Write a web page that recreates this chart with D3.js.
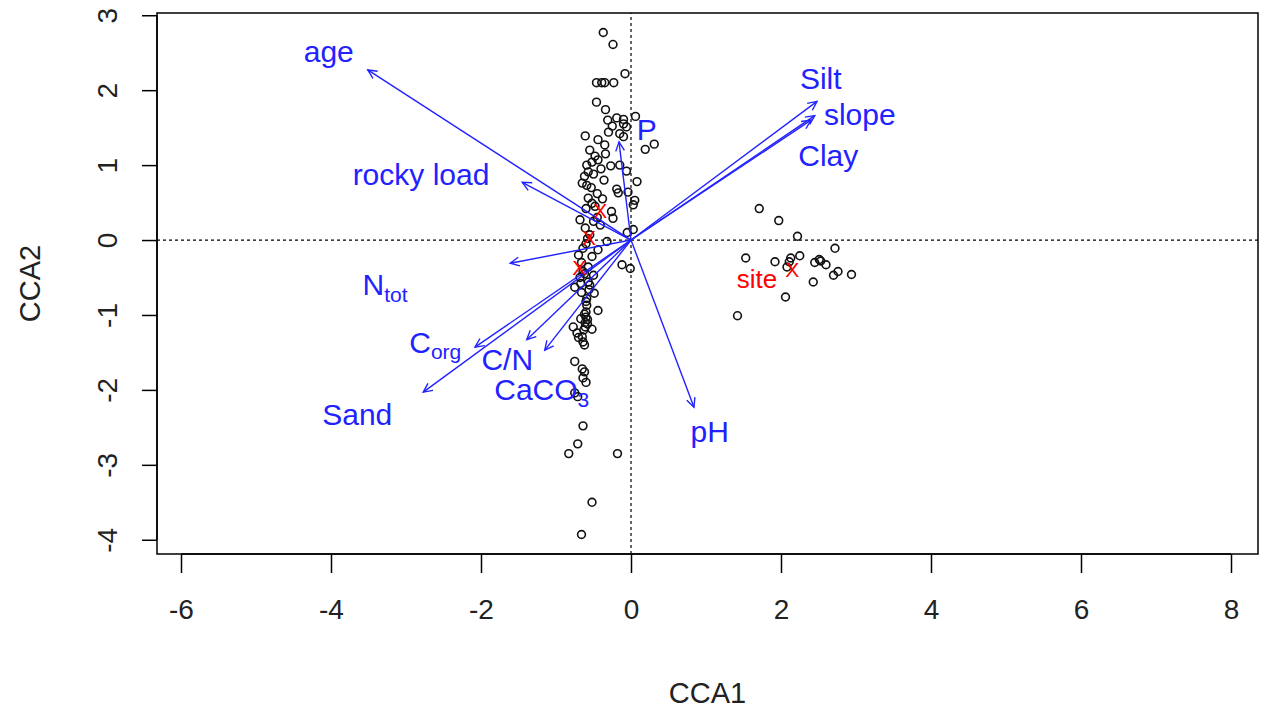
<!DOCTYPE html>
<html>
<head>
<meta charset="utf-8">
<script src="https://cdn.jsdelivr.net/npm/d3@7"></script>
<style>
  body { margin: 0; background: white; }
  text { font-family: "Liberation Sans", Arial, sans-serif; }
</style>
</head>
<body>
<div id="workspace"></div>
<script>
// site scores (CCA1, CCA2)
var siteX = [-0.37, -0.24, -0.08, -0.46, -0.39, -0.35, -0.23, -0.46, -0.34, 0.06, -0.19, -0.10, -0.31, -0.06,
             -0.61, -0.30, -0.15, -0.10, -0.44, -0.35, 0.31, 0.19,
             -0.34, -0.44, -0.52, -0.59, -0.27, -0.15, -0.06, -0.57, -0.50, -0.36, 0.08, -0.65, -0.59,
             -0.19, -0.17, -0.04, -0.57, -0.52, 0.05, 0.03, -0.26, -0.24, -0.68, -0.41, -0.61, 0.03,
             -0.55, -0.32, -0.64, -0.44, -0.52, -0.12, -0.01, -0.57, -0.64, -0.50,
             -0.75, -0.67, -0.57, -0.49, -0.59, -0.59, -0.44, -0.60, -0.60, -0.61, -0.77, -0.72, -0.61,
             -0.52, -0.65, -0.64, -0.75, -0.65, -0.62, -0.64, -0.75, -0.71,
             -0.64, -0.71, -0.83, -0.18, -0.52, -0.66,
             -0.60, -0.62, -0.58, -0.63, -0.56, -0.68, -0.45, -0.50, -0.58, -0.60, -0.66, -0.62,
             -0.55, -0.48, -0.40, -0.62, -0.53, -0.45, -0.38, -0.60, -0.48, -0.70, -0.55, -0.66,
             -0.58, -0.67, -0.62, -0.70, -0.60, -0.05, -0.10, -0.25,
             1.71, 1.97, 2.22, 2.72, 1.53, 1.92, 2.13, 2.25, 2.08, 2.45, 2.51, 2.53, 2.60, 2.70, 2.76,
             2.94, 2.43, 2.06, 1.42, 2.11];
var siteY = [2.77, 2.61, 2.22, 2.10, 2.10, 2.10, 2.10, 1.84, 1.74, 1.65, 1.63, 1.61, 1.60, 1.51,
             1.39, 1.44, 1.42, 1.38, 1.34, 1.27, 1.28, 1.21,
             1.15, 1.07, 1.04, 1.00, 0.99, 1.00, 0.92, 0.91, 0.88, 0.80, 0.78, 0.76, 0.73,
             0.68, 0.63, 0.64, 0.56, 0.49, 0.53, 0.47, 0.38, 0.29, 0.27, 0.20, 0.16, 0.14,
             0.07, -0.02, -0.11, -0.13, -0.22, -0.33, -0.38, -0.36, -0.42, -0.47,
             -0.63, -0.58, -0.56, -0.71, -0.78, -0.87, -0.94, -0.96, -1.03, -1.10, -1.16, -1.24, -1.16,
             -1.19, -1.29, -1.36, -1.62, -1.72, -1.76, -1.84, -2.04, -2.09,
             -2.48, -2.72, -2.85, -2.85, -3.50, -3.93,
             -0.82, -0.99, -1.06, -1.20, -0.66, -0.50, 0.30, 0.25, 0.02, -0.05, -0.30, -0.45,
             1.20, 1.12, 0.95, 0.85, 0.70, 0.62, 0.55, 0.42, 0.45, -0.20, -0.60, -0.70,
             -1.12, -1.05, -1.40, -1.30, -1.90, 0.10, 1.55, 1.52,
             0.42, 0.26, 0.05, -0.11, -0.24, -0.29, -0.24, -0.21, -0.36, -0.30, -0.26, -0.28, -0.33, -0.47, -0.42,
             -0.46, -0.56, -0.76, -1.01, -0.29];

// environmental vectors
var envNames = ['age', 'rocky load', 'Ntot', 'Corg', 'Sand', 'C/N', 'CaCO3', 'pH', 'P', 'Silt', 'slope', 'Clay'];
var envX = [-3.51, -1.45, -1.61, -2.08, -2.77, -1.39, -1.15, 0.84, -0.16, 2.48, 2.45, 2.40];
var envY = [2.27, 0.77, -0.31, -1.43, -2.03, -1.33, -1.47, -2.23, 1.31, 1.85, 1.66, 1.60];
var labX = [-4.03, -2.80, -3.28, -2.61, -3.65, -1.65, -1.19, 1.05, 0.21, 2.53, 3.05, 2.63];
var labY = [2.51, 0.87, -0.60, -1.37, -2.33, -1.60, -2.00, -2.56, 1.47, 2.15, 1.67, 1.13];
var labMain = ['age', 'rocky load', 'N', 'C', 'Sand', 'C/N', 'CaCO', 'pH', 'P', 'Silt', 'slope', 'Clay'];
var labSub = ['', '', 'tot', 'org', '', '', '3', '', '', '', '', ''];

// factor centroids
var centX = [-0.41, -0.56, -0.69, 2.15];
var centY = [0.40, 0.03, -0.37, -0.39];
var centLabel = ['', '', '', 'site'];

var xTicks = [-6, -4, -2, 0, 2, 4, 6, 8];
var yTicks = [-4, -3, -2, -1, 0, 1, 2, 3];

var W = 1264, H = 711;
var x = d3.scaleLinear().domain([-6.32, 8.36]).range([157, 1258]);
var y = d3.scaleLinear().domain([-4.19, 3.03]).range([554, 13]);
var fmt = function(d){return String(d);};

var svg = d3.select('#workspace')
  .append('svg')
  .attr('width', W).attr('height', H);

// reference lines
svg.append('line')
  .attr('x1', x.range()[0]).attr('x2', x.range()[1])
  .attr('y1', y(0)).attr('y2', y(0))
  .style('stroke', '#000').style('stroke-width', 1.2).style('stroke-dasharray', '3, 3');
svg.append('line')
  .attr('x1', x(0)).attr('x2', x(0))
  .attr('y1', y.range()[0]).attr('y2', y.range()[1])
  .style('stroke', '#000').style('stroke-width', 1.2).style('stroke-dasharray', '3, 3');

// sites
var sites = siteX.map(function(v, i){return {x : v, y : siteY[i]};});
svg.selectAll('.site')
  .data(sites)
  .enter()
  .append('circle')
  .classed('site', true)
  .attr('cx', function(d){return x(d.x);})
  .attr('cy', function(d){return y(d.y);})
  .attr('r', 3.9)
  .style('fill', 'none').style('stroke', '#111').style('stroke-width', 1.6);

// arrows
var env = envNames.map(function(n, i){
  return {name : n, x : envX[i], y : envY[i], lx : labX[i], ly : labY[i], main : labMain[i], sub : labSub[i]};
});
var blue = '#2222ff';
svg.selectAll('.envLine')
  .data(env)
  .enter()
  .append('line')
  .classed('envLine', true)
  .attr('x1', x(0)).attr('y1', y(0))
  .attr('x2', function(d){return x(d.x);})
  .attr('y2', function(d){return y(d.y);})
  .style('stroke', blue).style('stroke-width', 1.4);

svg.selectAll('.envHead')
  .data(env)
  .enter()
  .append('path')
  .classed('envHead', true)
  .attr('d', function(d){
    var tx = x(d.x), ty = y(d.y);
    var a = Math.atan2(ty - y(0), tx - x(0));
    var L = 10, s = Math.PI / 7;
    return 'M ' + (tx - L * Math.cos(a - s)) + ' ' + (ty - L * Math.sin(a - s)) +
           ' L ' + tx + ' ' + ty +
           ' L ' + (tx - L * Math.cos(a + s)) + ' ' + (ty - L * Math.sin(a + s));
  })
  .style('fill', 'none').style('stroke', blue).style('stroke-width', 1.4);

var labs = svg.selectAll('.envLabel')
  .data(env)
  .enter()
  .append('text')
  .classed('envLabel', true)
  .attr('x', function(d){return x(d.lx);})
  .attr('y', function(d){return y(d.ly);})
  .attr('dy', '0.35em')
  .attr('text-anchor', 'middle')
  .style('font-size', '30px').style('fill', blue);
labs.append('tspan').text(function(d){return d.main;});
labs.filter(function(d){return d.sub !== '';})
  .append('tspan')
  .attr('dy', '0.3em')
  .style('font-size', '21px')
  .text(function(d){return d.sub;});

// centroids
var cents = centX.map(function(v, i){return {x : v, y : centY[i], label : centLabel[i]};});
svg.selectAll('.cent')
  .data(cents)
  .enter()
  .append('text')
  .classed('cent', true)
  .attr('x', function(d){return x(d.x);})
  .attr('y', function(d){return y(d.y);})
  .attr('dy', '0.36em')
  .attr('text-anchor', 'middle')
  .style('font-size', '21px').style('fill', '#ff0000')
  .text('X');
svg.selectAll('.centLabel')
  .data(cents.filter(function(d){return d.label !== '';}))
  .enter()
  .append('text')
  .classed('centLabel', true)
  .attr('x', function(d){return x(d.x) - 15;})
  .attr('y', function(d){return y(d.y) + 10;})
  .attr('dy', '0.35em')
  .attr('text-anchor', 'end')
  .style('font-size', '26px').style('fill', '#ff0000')
  .text(function(d){return d.label;});

// box
svg.append('rect')
  .attr('x', x.range()[0]).attr('y', y.range()[1])
  .attr('width', x.range()[1] - x.range()[0])
  .attr('height', y.range()[0] - y.range()[1])
  .style('fill', 'none').style('stroke', '#000').style('stroke-width', 1.5);

// axes
var xAxis = svg.append('g')
  .attr('transform', 'translate(0,' + y.range()[0] + ')')
  .call(d3.axisBottom(x).tickValues(xTicks).tickSize(19).tickPadding(26).tickFormat(fmt));
var yAxis = svg.append('g')
  .attr('transform', 'translate(' + x.range()[0] + ',0)')
  .call(d3.axisLeft(y).tickValues(yTicks).tickSize(15).tickFormat(fmt));
xAxis.select('.domain').attr('d', 'M' + x(-6) + ',0H' + x(8)).style('stroke-width', 1.5);
yAxis.select('.domain').attr('d', 'M0,' + y(-4) + 'V' + y(3)).style('stroke-width', 1.5);
svg.selectAll('.tick line').style('stroke-width', 1.5);
xAxis.selectAll('.tick text')
  .style('font-size', '28px').style('fill', '#222')
  .style('font-family', '"Liberation Sans", Arial, sans-serif');
yAxis.selectAll('.tick text')
  .attr('x', null).attr('dy', null)
  .attr('text-anchor', 'middle')
  .attr('transform', 'translate(-50,0) rotate(-90)')
  .attr('y', 0).attr('dy', '0.35em')
  .style('font-size', '28px').style('fill', '#222')
  .style('font-family', '"Liberation Sans", Arial, sans-serif');

// titles
svg.append('text')
  .attr('x', (x.range()[0] + x.range()[1]) / 2).attr('y', 693)
  .attr('dy', '0.35em').attr('text-anchor', 'middle')
  .style('font-size', '29px').style('fill', '#222')
  .text('CCA1');
svg.append('text')
  .attr('transform', 'translate(30,' + ((y.range()[0] + y.range()[1]) / 2) + ') rotate(-90)')
  .attr('dy', '0.35em').attr('text-anchor', 'middle')
  .style('font-size', '29px').style('fill', '#222')
  .text('CCA2');
</script>
</body>
</html>
